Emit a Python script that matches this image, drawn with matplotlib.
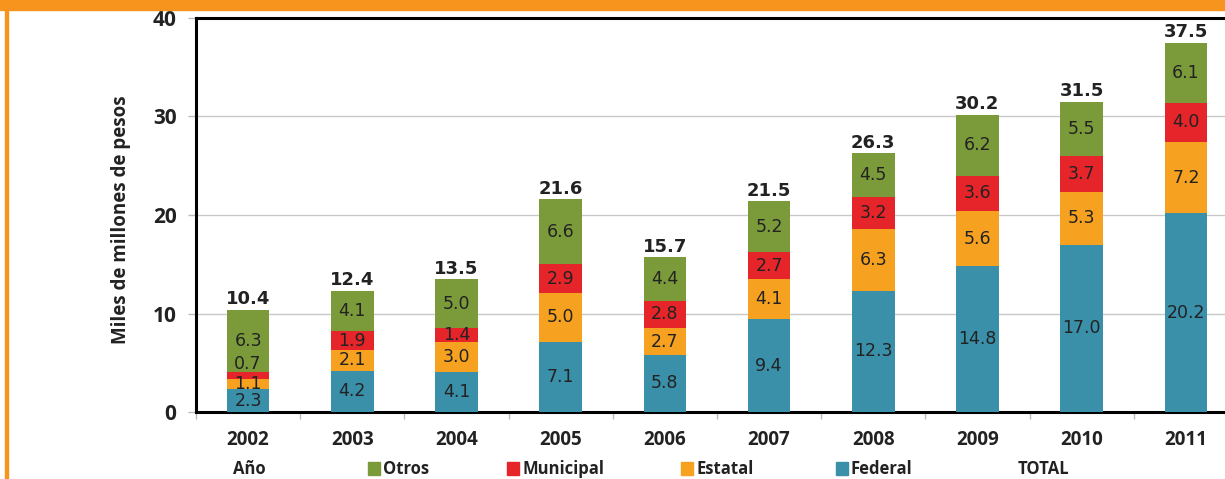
import matplotlib
matplotlib.use("Agg")
import matplotlib.pyplot as plt
from matplotlib.patches import Rectangle
import numpy as np

years = ["2002", "2003", "2004", "2005", "2006", "2007", "2008", "2009", "2010", "2011"]
federal = [2.3, 4.2, 4.1, 7.1, 5.8, 9.4, 12.3, 14.8, 17.0, 20.2]
estatal = [1.1, 2.1, 3.0, 5.0, 2.7, 4.1, 6.3, 5.6, 5.3, 7.2]
municipal = [0.7, 1.9, 1.4, 2.9, 2.8, 2.7, 3.2, 3.6, 3.7, 4.0]
otros = [6.3, 4.1, 5.0, 6.6, 4.4, 5.2, 4.5, 6.2, 5.5, 6.1]
totals = [10.4, 12.4, 13.5, 21.6, 15.7, 21.5, 26.3, 30.2, 31.5, 37.5]

series = [("Federal", federal, "#3a8fa9"),
          ("Estatal", estatal, "#f6a11f"),
          ("Municipal", municipal, "#e5252a"),
          ("Otros", otros, "#7b9b3b")]

W, H = 1225, 479
fig = plt.figure(figsize=(W / 100, H / 100), dpi=100)
orange = "#f7941d"
fig.patches.append(Rectangle((0, 1 - 10 / H), 1, 10 / H, transform=fig.transFigure,
                             color=orange, zorder=0))
fig.patches.append(Rectangle((5 / W, 0), 3 / W, 1, transform=fig.transFigure,
                             color=orange, zorder=0))

left, right, top, bottom = 196, 1238, 18, 412
ax = fig.add_axes([left / W, 1 - bottom / H, (right - left) / W, (bottom - top) / H])

x = np.arange(len(years))
base = np.zeros(len(years))
for name, vals, col in series:
    vals = np.array(vals)
    ax.bar(x, vals, bottom=base, width=0.41, color=col, zorder=3)
    for i, v in enumerate(vals):
        yc = base[i] + v / 2
        dy = 0
        if v < 1.0:
            dy = 8
        ax.annotate(f"{v:.1f}", (x[i], yc), xytext=(0, dy), textcoords="offset points",
                    ha="center", va="center", fontsize=12.5, color="#222222",
                    family="DejaVu Sans", zorder=5)
    base = base + vals

for i, t in enumerate(totals):
    ax.annotate(f"{t:.1f}", (x[i], base[i]), xytext=(0, 1), textcoords="offset points",
                ha="center", va="bottom", fontsize=13, fontweight="bold",
                color="#222222", family="DejaVu Sans", zorder=5)

ax.set_xlim(-0.5, len(years) - 0.5)
ax.set_ylim(0, 40)
ax.set_yticks([0, 10, 20, 30, 40])
ax.set_xticks(x)
ax.set_xticklabels(years)
ax.set_xticks(np.arange(len(years) + 1) - 0.5, minor=True)
ax.tick_params(axis="x", which="major", length=0, pad=13)
ax.tick_params(axis="x", which="minor", length=5, color="#bbbbbb", width=1)
ax.tick_params(axis="y", length=6, color="#bbbbbb", width=1, pad=8)
for lab in ax.get_xticklabels():
    lab.set_fontsize(13.5)
    lab.set_fontweight("bold")
    lab.set_family("Open Sans")
    lab.set_color("#222222")
for lab in ax.get_yticklabels():
    lab.set_fontsize(15)
    lab.set_fontweight("bold")
    lab.set_family("Open Sans")
    lab.set_color("#222222")

ax.yaxis.grid(True, color="#c8c8c8", linewidth=1, zorder=0)
ax.set_axisbelow(True)
for s in ["left", "top", "bottom"]:
    ax.spines[s].set_linewidth(2.2)
    ax.spines[s].set_color("black")
ax.spines["right"].set_visible(False)

fig.text(121 / W, 1 - 220 / H, "Miles de millones de pesos", rotation=90,
         ha="center", va="center", fontsize=13.5, fontweight="bold",
         family="Open Sans", color="#222222")

# legend row
ly = 1 - 469 / H
fig.text(249 / W, ly, "Año", ha="center", va="center", fontsize=12,
         fontweight="bold", family="Open Sans", color="#222222")
leg = [("Otros", "#7b9b3b", 368), ("Municipal", "#e5252a", 507),
       ("Estatal", "#f6a11f", 681), ("Federal", "#3a8fa9", 836)]
for name, col, px in leg:
    fig.patches.append(Rectangle((px / W, ly - 6 / H), 12 / W, 13 / H,
                                 transform=fig.transFigure, color=col))
    fig.text((px + 15) / W, ly, name, ha="left", va="center", fontsize=12,
             fontweight="bold", family="Open Sans", color="#222222")
fig.text(1043 / W, ly, "TOTAL", ha="center", va="center", fontsize=12,
         fontweight="bold", family="Open Sans", color="#222222")

fig.savefig("out.png", dpi=100)
